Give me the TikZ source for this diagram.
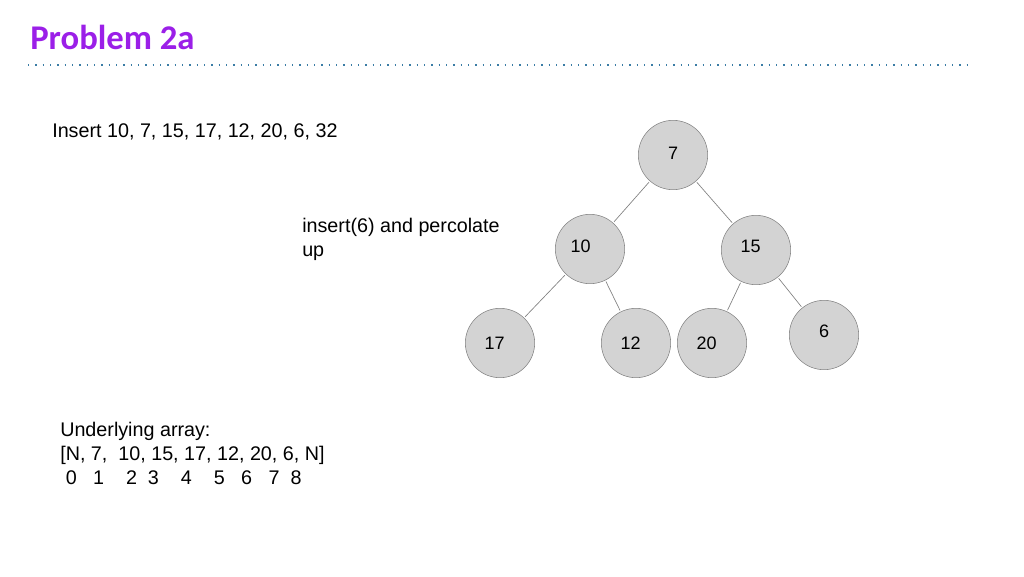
\documentclass[tikz,border=0pt]{standalone}
\usepackage{fontspec}
\setmainfont{Liberation Sans}
\newfontfamily\titlefont{Carlito}
\definecolor{ttl}{HTML}{9B1FE8}
\definecolor{dots}{HTML}{3A7CA5}
\definecolor{nfill}{HTML}{D3D3D3}
\definecolor{nline}{HTML}{808080}
\begin{document}
\begin{tikzpicture}[x=0.75pt,y=-0.75pt,
  hn/.style={circle,draw=nline,fill=nfill,minimum size=52pt,inner sep=0pt,font=\fontsize{13.5}{16}\selectfont},
  ed/.style={draw=nline,line width=0.5pt,shorten <=1pt,shorten >=1pt},
  txt/.style={anchor=north west,inner sep=0pt,font=\fontsize{14.8}{18}\selectfont,align=left}]
\useasboundingbox (0,0) rectangle (1024,576);
\node[anchor=west,inner sep=0pt,text=ttl,font=\titlefont\bfseries\fontsize{26}{30}\selectfont] (title) at (30,37) {Problem 2a};
\draw[dots,line width=1.5pt,dash pattern=on 1pt off 4.5pt] (28,65) coordinate (d1) -- (968,65) coordinate (d2);
\node[txt] (ins) at (52,123) {Insert 10, 7, 15, 17, 12, 20, 6, 32};
\node[txt] (perc) at (302,218) {insert(6) and percolate\\up};
\node[txt] (arr) at (60,422) {Underlying array:\\{}[N, 7,\ \ 10, 15, 17, 12, 20, 6, N]\\\ 0\ \ \ 1\ \ \ \ 2\ \ 3\ \ \ \ 4\ \ \ \ 5\ \ \ 6\ \ \ 7\ \ 8};
\node[hn] (n7) at (673,155) {\raisebox{2pt}{7}};
\node[hn] (n10) at (590,249) {\hspace*{-14pt}\raisebox{4pt}{10}};
\node[hn] (n15) at (756,250) {\hspace*{-8pt}\raisebox{5pt}{15}};
\node[hn] (n17) at (500,343) {\hspace*{-8pt}17};
\node[hn] (n12) at (636,343) {\hspace*{-8pt}12};
\node[hn] (n20) at (712,343) {\hspace*{-8pt}20};
\node[hn] (n6) at (824,335) {\raisebox{5pt}{6}};
\draw[ed] (n7) -- (n10);
\draw[ed] (n7) -- (n15);
\draw[ed] (n10) -- (n17);
\draw[ed] (n10) -- (n12);
\draw[ed] (n15) -- (n20);
\draw[ed] (n15) -- (n6);
\end{tikzpicture}
\end{document}
